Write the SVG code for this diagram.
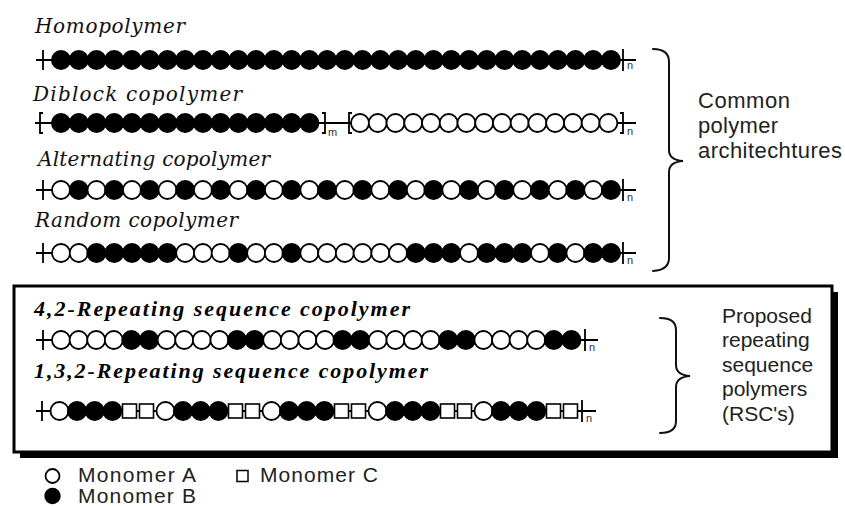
<svg xmlns="http://www.w3.org/2000/svg" xmlns:xlink="http://www.w3.org/1999/xlink" width="845" height="506" viewBox="0 0 845 506">
  <style>
    .title { font-family: "DejaVu Serif", "Liberation Serif", serif; font-style: italic; font-size: 20px; fill: #111; }
    .rtitle { font-family: "Liberation Serif", "DejaVu Serif", serif; font-style: italic; font-weight: bold; font-size: 22px; fill: #000; }
    .label { font-family: "Liberation Sans", Arial, sans-serif; font-size: 22px; fill: #222; }
    .small { font-size: 21px; }
    .sub { font-family: "Liberation Sans", Arial, sans-serif; font-size: 11px; fill: #333; }
    .bone { stroke: #000; stroke-width: 1.8; fill: none; }
    .brace { stroke: #111; stroke-width: 2; fill: none; stroke-linecap: round; }
  </style>
  <defs>
    <!-- monomer glyphs: A = open circle, B = filled circle, C = open square -->
    <circle id="a" r="9" fill="#fff" stroke="#000" stroke-width="1.8"/>
    <circle id="b" r="10" fill="#000"/>
    <rect id="c" x="-7" y="-7" width="14" height="14" fill="#fff" stroke="#000" stroke-width="1.6"/>
  </defs>

  <rect width="845" height="506" fill="#fff"/>

  <!-- Homopolymer -->
  <g id="homopolymer">
    <text class="title" x="35" y="33" textLength="150" lengthAdjust="spacing">Homopolymer</text>
    <g transform="translate(0,60)">
      <path class="bone" d="M36,0 H52 M43,-10 V10 M618,0 H636 M623,-11 V11"/>
      <use href="#b" x="61"/><use href="#b" x="78.74"/><use href="#b" x="96.48"/><use href="#b" x="114.22"/>
      <use href="#b" x="131.96"/><use href="#b" x="149.7"/><use href="#b" x="167.44"/><use href="#b" x="185.18"/>
      <use href="#b" x="202.92"/><use href="#b" x="220.66"/><use href="#b" x="238.4"/><use href="#b" x="256.14"/>
      <use href="#b" x="273.88"/><use href="#b" x="291.62"/><use href="#b" x="309.36"/><use href="#b" x="327.1"/>
      <use href="#b" x="344.84"/><use href="#b" x="362.58"/><use href="#b" x="380.32"/><use href="#b" x="398.06"/>
      <use href="#b" x="415.8"/><use href="#b" x="433.54"/><use href="#b" x="451.28"/><use href="#b" x="469.02"/>
      <use href="#b" x="486.76"/><use href="#b" x="504.5"/><use href="#b" x="522.24"/><use href="#b" x="539.98"/>
      <use href="#b" x="557.72"/><use href="#b" x="575.46"/><use href="#b" x="593.2"/><use href="#b" x="610.94"/>
      <text class="sub" x="627" y="9">n</text>
    </g>
  </g>

  <!-- Diblock copolymer -->
  <g id="diblock">
    <text class="title" x="33" y="101" textLength="209" lengthAdjust="spacing">Diblock copolymer</text>
    <g transform="translate(0,123)">
      <path class="bone" d="M35,0 H52 M43,-10 H40 V10 H43 M318,0 H352 M322,-10 H325 V10 H322 M352,-10 H349 V10 H352 M616,0 H636 M620,-10 H623 V10 H620"/>
      <use href="#b" x="61"/><use href="#b" x="78.74"/><use href="#b" x="96.48"/><use href="#b" x="114.22"/>
      <use href="#b" x="131.96"/><use href="#b" x="149.7"/><use href="#b" x="167.44"/><use href="#b" x="185.18"/>
      <use href="#b" x="202.92"/><use href="#b" x="220.66"/><use href="#b" x="238.4"/><use href="#b" x="256.14"/>
      <use href="#b" x="273.88"/><use href="#b" x="291.62"/><use href="#b" x="309.36"/>
      <use href="#a" x="360"/><use href="#a" x="377.74"/><use href="#a" x="395.48"/><use href="#a" x="413.22"/>
      <use href="#a" x="430.96"/><use href="#a" x="448.7"/><use href="#a" x="466.44"/><use href="#a" x="484.18"/>
      <use href="#a" x="501.92"/><use href="#a" x="519.66"/><use href="#a" x="537.4"/><use href="#a" x="555.14"/>
      <use href="#a" x="572.88"/><use href="#a" x="590.62"/><use href="#a" x="608.36"/>
      <text class="sub" x="328" y="13">m</text>
      <text class="sub" x="627" y="12">n</text>
    </g>
  </g>

  <!-- Alternating copolymer -->
  <g id="alternating">
    <text class="title" x="38" y="166" textLength="232" lengthAdjust="spacing">Alternating copolymer</text>
    <g transform="translate(0,190)">
      <path class="bone" d="M36,0 H52 M43,-10 V10 M618,0 H636 M623,-11 V11"/>
      <use href="#a" x="61"/><use href="#b" x="78.74"/><use href="#a" x="96.48"/><use href="#b" x="114.22"/>
      <use href="#a" x="131.96"/><use href="#b" x="149.7"/><use href="#a" x="167.44"/><use href="#b" x="185.18"/>
      <use href="#a" x="202.92"/><use href="#b" x="220.66"/><use href="#a" x="238.4"/><use href="#b" x="256.14"/>
      <use href="#a" x="273.88"/><use href="#b" x="291.62"/><use href="#a" x="309.36"/><use href="#b" x="327.1"/>
      <use href="#a" x="344.84"/><use href="#b" x="362.58"/><use href="#a" x="380.32"/><use href="#b" x="398.06"/>
      <use href="#a" x="415.8"/><use href="#b" x="433.54"/><use href="#a" x="451.28"/><use href="#b" x="469.02"/>
      <use href="#a" x="486.76"/><use href="#b" x="504.5"/><use href="#a" x="522.24"/><use href="#b" x="539.98"/>
      <use href="#a" x="557.72"/><use href="#b" x="575.46"/><use href="#a" x="593.2"/><use href="#b" x="610.94"/>
      <text class="sub" x="627" y="11">n</text>
    </g>
  </g>

  <!-- Random copolymer -->
  <g id="random">
    <text class="title" x="35" y="227" textLength="203" lengthAdjust="spacing">Random copolymer</text>
    <g transform="translate(0,253)">
      <path class="bone" d="M36,0 H52 M43,-10 V10 M618,0 H636 M623,-11 V11"/>
      <use href="#a" x="61"/><use href="#a" x="78.74"/><use href="#b" x="96.48"/><use href="#b" x="114.22"/>
      <use href="#b" x="131.96"/><use href="#b" x="149.7"/><use href="#b" x="167.44"/><use href="#a" x="185.18"/>
      <use href="#a" x="202.92"/><use href="#a" x="220.66"/><use href="#b" x="238.4"/><use href="#a" x="256.14"/>
      <use href="#a" x="273.88"/><use href="#b" x="291.62"/><use href="#a" x="309.36"/><use href="#a" x="327.1"/>
      <use href="#a" x="344.84"/><use href="#a" x="362.58"/><use href="#a" x="380.32"/><use href="#a" x="398.06"/>
      <use href="#b" x="415.8"/><use href="#b" x="433.54"/><use href="#b" x="451.28"/><use href="#a" x="469.02"/>
      <use href="#b" x="486.76"/><use href="#b" x="504.5"/><use href="#b" x="522.24"/><use href="#a" x="539.98"/>
      <use href="#b" x="557.72"/><use href="#a" x="575.46"/><use href="#b" x="593.2"/><use href="#b" x="610.94"/>
      <text class="sub" x="627" y="11">n</text>
    </g>
  </g>

  <!-- Brace and caption for the common architectures -->
  <g id="common-brace">
    <path class="brace" d="M653,49 Q669,49 669,62 L669,150 Q669,160 683,161 Q669,162 669,172 L669,258 Q669,270 653,271"/>
    <text class="label" x="698" y="108" textLength="92" lengthAdjust="spacing">Common</text>
    <text class="label" x="698" y="133" textLength="80" lengthAdjust="spacing">polymer</text>
    <text class="label" x="698" y="158" textLength="144" lengthAdjust="spacing">architechtures</text>
  </g>

  <!-- Framed panel with shadow -->
  <g id="panel">
    <rect x="20" y="292" width="818" height="166" fill="#000"/>
    <rect x="14" y="286" width="818" height="166" fill="#fff" stroke="#000" stroke-width="3"/>
  </g>

  <!-- 4,2-Repeating sequence copolymer -->
  <g id="rsc-42">
    <text class="rtitle" x="34" y="316" textLength="376" lengthAdjust="spacing">4,2-Repeating sequence copolymer</text>
    <g transform="translate(0,340)">
      <path class="bone" d="M36,0 H52 M43,-10 V10 M578,0 H598 M585,-11 V11"/>
      <use href="#a" x="61"/><use href="#a" x="78.6"/><use href="#a" x="96.2"/><use href="#a" x="113.8"/>
      <use href="#b" x="131.4"/><use href="#b" x="149"/>
      <use href="#a" x="166.6"/><use href="#a" x="184.2"/><use href="#a" x="201.8"/><use href="#a" x="219.4"/>
      <use href="#b" x="237"/><use href="#b" x="254.6"/>
      <use href="#a" x="272.2"/><use href="#a" x="289.8"/><use href="#a" x="307.4"/><use href="#a" x="325"/>
      <use href="#b" x="342.6"/><use href="#b" x="360.2"/>
      <use href="#a" x="377.8"/><use href="#a" x="395.4"/><use href="#a" x="413"/><use href="#a" x="430.6"/>
      <use href="#b" x="448.2"/><use href="#b" x="465.8"/>
      <use href="#a" x="483.4"/><use href="#a" x="501"/><use href="#a" x="518.6"/><use href="#a" x="536.2"/>
      <use href="#b" x="553.8"/><use href="#b" x="571.4"/>
      <text class="sub" x="589" y="11">n</text>
    </g>
  </g>

  <!-- 1,3,2-Repeating sequence copolymer -->
  <g id="rsc-132">
    <text class="rtitle" x="34" y="378" textLength="394" lengthAdjust="spacing">1,3,2-Repeating sequence copolymer</text>
    <g transform="translate(0,411)">
      <path class="bone" d="M36,0 H52 M42,-10 V10 M50,0 H596 M582,-11 V11"/>
      <use href="#a" x="59.5"/><use href="#b" x="77"/><use href="#b" x="94.7"/><use href="#b" x="112.4"/>
      <use href="#c" x="129.5"/><use href="#c" x="146.5"/>
      <use href="#a" x="165.5"/><use href="#b" x="183"/><use href="#b" x="200.7"/><use href="#b" x="218.4"/>
      <use href="#c" x="235.5"/><use href="#c" x="252.5"/>
      <use href="#a" x="271.5"/><use href="#b" x="289"/><use href="#b" x="306.7"/><use href="#b" x="324.4"/>
      <use href="#c" x="341.5"/><use href="#c" x="358.5"/>
      <use href="#a" x="377.5"/><use href="#b" x="395"/><use href="#b" x="412.7"/><use href="#b" x="430.4"/>
      <use href="#c" x="447.5"/><use href="#c" x="464.5"/>
      <use href="#a" x="483.5"/><use href="#b" x="501"/><use href="#b" x="518.7"/><use href="#b" x="536.4"/>
      <use href="#c" x="553.5"/><use href="#c" x="570.5"/>
      <text class="sub" x="586" y="11">n</text>
    </g>
  </g>

  <!-- Brace and caption for the proposed polymers -->
  <g id="rsc-brace">
    <path class="brace" d="M660,318 Q676,318 676,330 L676,365 Q676,375 690,376 Q676,377 676,387 L676,421 Q676,433 660,433"/>
    <text class="label small" x="722" y="323">Proposed</text>
    <text class="label small" x="722" y="347">repeating</text>
    <text class="label small" x="722" y="372">sequence</text>
    <text class="label small" x="722" y="396">polymers</text>
    <text class="label small" x="722" y="421">(RSC's)</text>
  </g>

  <!-- Legend -->
  <g id="legend">
    <circle cx="52.5" cy="476" r="7" fill="#fff" stroke="#000" stroke-width="1.8"/>
    <text class="label small" x="78" y="482" textLength="118" lengthAdjust="spacing">Monomer A</text>
    <circle cx="52.5" cy="496" r="8.2" fill="#000"/>
    <text class="label small" x="78" y="503" textLength="118" lengthAdjust="spacing">Monomer B</text>
    <rect x="237" y="470.5" width="11" height="11" fill="#fff" stroke="#000" stroke-width="1.5"/>
    <text class="label small" x="260" y="482" textLength="118" lengthAdjust="spacing">Monomer C</text>
  </g>
</svg>
